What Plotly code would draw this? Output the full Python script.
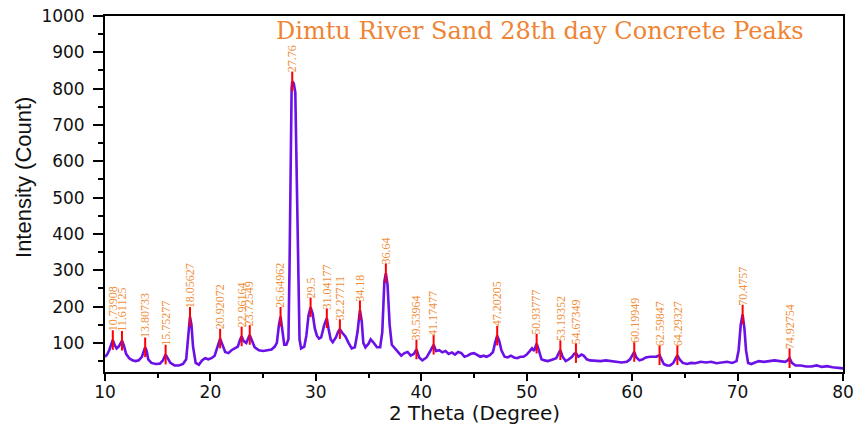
import plotly.graph_objects as go

# ---- curve data ----
two_theta = [10.0, 10.2, 10.4, 10.6, 10.74, 10.9, 11.1, 11.3, 11.5, 11.62, 11.8, 12.0, 12.3, 12.6, 12.9,
             13.2, 13.5, 13.7, 13.81, 13.95, 14.1, 14.4, 14.8, 15.2, 15.5, 15.75, 15.95, 16.2, 16.6, 17.0,
             17.4, 17.7, 17.9, 18.06, 18.2, 18.35, 18.6, 18.9, 19.2, 19.5, 19.8, 20.1, 20.4, 20.7, 20.92,
             21.1, 21.4, 21.7, 22.0, 22.3, 22.6, 22.8, 22.96, 23.15, 23.4, 23.72, 23.9, 24.2, 24.6, 25.0,
             25.4, 25.8, 26.1, 26.3, 26.5, 26.65, 26.8, 27.0, 27.2, 27.4, 27.5, 27.6, 27.7, 27.76, 27.9,
             28.05, 28.15, 28.25, 28.35, 28.45, 28.6, 28.9, 29.1, 29.3, 29.5, 29.7, 29.9, 30.1, 30.3, 30.5,
             30.8, 31.04, 31.2, 31.4, 31.6, 31.9, 32.1, 32.27, 32.5, 32.8, 33.1, 33.4, 33.7, 33.95, 34.18,
             34.35, 34.5, 34.7, 35.0, 35.2, 35.5, 35.8, 36.1, 36.3, 36.5, 36.64, 36.8, 37.0, 37.2, 37.5,
             37.8, 38.1, 38.4, 38.7, 39.0, 39.3, 39.54, 39.8, 40.1, 40.5, 40.9, 41.17, 41.4, 41.7, 42.0,
             42.3, 42.6, 42.9, 43.2, 43.5, 43.8, 44.1, 44.4, 44.7, 45.0, 45.3, 45.6, 45.9, 46.2, 46.5,
             46.8, 47.0, 47.2, 47.4, 47.6, 47.9, 48.2, 48.5, 48.8, 49.1, 49.4, 49.7, 50.0, 50.3, 50.5,
             50.7, 50.94, 51.15, 51.4, 51.7, 52.0, 52.4, 52.8, 53.0, 53.19, 53.4, 53.7, 54.0, 54.3, 54.5,
             54.67, 54.9, 55.2, 55.4, 55.7, 56.0, 56.5, 57.0, 57.5, 58.0, 58.5, 59.0, 59.5, 59.8, 60.0,
             60.2, 60.4, 60.7, 61.0, 61.3, 61.7, 62.0, 62.3, 62.6, 62.8, 63.0, 63.3, 63.6, 63.9, 64.1,
             64.29, 64.5, 64.8, 65.2, 65.6, 66.0, 66.5, 67.0, 67.5, 68.0, 68.5, 69.0, 69.5, 69.9, 70.1,
             70.3, 70.48, 70.65, 70.8, 71.0, 71.3, 71.7, 72.0, 72.5, 73.0, 73.5, 74.0, 74.5, 74.75, 74.93,
             75.15, 75.5, 76.0, 76.5, 77.0, 77.5, 78.0, 78.5, 79.0, 79.5, 80.0]
intensity = [62, 68, 80, 100, 108, 95, 85, 90, 102, 106, 92, 70, 58, 52, 50,
             52, 62, 80, 88, 78, 55, 45, 42, 43, 52, 68, 58, 45, 38, 38,
             42, 55, 120, 172, 150, 90, 45, 40, 52, 58, 55, 58, 65, 90, 112,
             98, 75, 72, 80, 85, 90, 108, 118, 105, 100, 122, 110, 88, 80, 78,
             80, 82, 90, 100, 150, 172, 140, 95, 95, 110, 300, 600, 800, 820, 815,
             790, 620, 560, 300, 110, 85, 90, 120, 175, 198, 180, 140, 120, 112, 115,
             150, 168, 140, 110, 102, 115, 130, 138, 128, 118, 100, 85, 88, 130, 190,
             160, 100, 88, 98, 110, 100, 88, 88, 130, 270, 292, 260, 150, 95, 85,
             75, 65, 72, 75, 65, 70, 82, 60, 52, 60, 80, 95, 78, 80, 74,
             78, 70, 74, 68, 75, 72, 62, 65, 70, 72, 66, 62, 65, 62, 66,
             75, 100, 120, 105, 80, 62, 60, 65, 60, 58, 62, 62, 68, 78, 85,
             78, 98, 80, 55, 52, 50, 54, 58, 70, 80, 62, 50, 55, 62, 70,
             72, 62, 68, 65, 55, 52, 50, 50, 52, 50, 48, 46, 48, 55, 65,
             75, 60, 52, 55, 60, 62, 62, 62, 66, 55, 42, 38, 38, 45, 58,
             66, 55, 45, 42, 45, 44, 48, 46, 48, 44, 46, 48, 45, 50, 80,
             150, 178, 140, 80, 45, 42, 46, 50, 48, 50, 52, 50, 48, 52, 58,
             45, 38, 38, 35, 35, 38, 34, 36, 33, 32, 30]

# ---- labelled peaks ----
peak_labels = ["10.73908", "11.61125", "13.80733", "15.75277", "18.05627", "20.92072", "22.96164",
               "23.72549", "26.64962", "27.76", "29.5", "31.04177", "32.27711", "34.18", "36.64",
               "39.53964", "41.17477", "47.20205", "50.93777", "53.19352", "54.67349", "60.19949",
               "62.59847", "64.29327", "70.4757", "74.92754"]
peak_x = [10.74, 11.61, 13.81, 15.75, 18.06, 20.92, 22.96, 23.73, 26.65, 27.76, 29.5, 31.04, 32.28,
          34.18, 36.64, 39.54, 41.17, 47.2, 50.94, 53.19, 54.67, 60.2, 62.6, 64.29, 70.48, 74.93]
peak_y = [108, 106, 88, 68, 172, 112, 118, 122, 172, 820, 198, 168, 138, 190, 292, 82, 95, 120, 98,
          80, 72, 75, 66, 66, 178, 58]

x_ticks = [10, 20, 30, 40, 50, 60, 70, 80]
y_ticks = [100, 200, 300, 400, 500, 600, 700, 800, 900, 1000]

CURVE = "#6b10e6"
LABEL = "#f0903c"

fig = go.Figure()
fig.add_trace(go.Scatter(x=two_theta, y=intensity, mode="lines",
                         line=dict(color=CURVE, width=2.6), hoverinfo="skip", showlegend=False))
fig.add_trace(go.Scatter(x=peak_x, y=peak_y, mode="markers",
                         marker=dict(symbol="line-ns", size=14, line=dict(color="#ff0000", width=2)),
                         showlegend=False, hoverinfo="skip"))

for lbl, px, py in zip(peak_labels, peak_x, peak_y):
    fig.add_annotation(x=px, y=py, text=lbl, textangle=-90, showarrow=False,
                       xanchor="center", yanchor="bottom", yshift=7,
                       font=dict(family="Liberation Serif", size=12, color=LABEL))

fig.add_annotation(xref="paper", yref="paper", x=0.589, y=0.958, xanchor="center", yanchor="middle",
                   text="Dimtu River Sand 28th day Concrete Peaks", showarrow=False,
                   font=dict(family="DejaVu Serif", size=24, color="#ee8434"))

fig.add_annotation(xref="paper", yref="paper", x=0.5, y=0.0, yshift=-41, xanchor="center", yanchor="middle",
                   text="2 Theta (Degree)", showarrow=False,
                   font=dict(family="DejaVu Sans", size=20, color="#111111"))
fig.add_annotation(xref="paper", yref="paper", x=0, xshift=-81, y=0.545, xanchor="center", yanchor="middle",
                   text="Intensity (Count)", showarrow=False, textangle=-90,
                   font=dict(family="Liberation Sans", size=22, color="#111111"))

axis_common = dict(showline=True, linecolor="black", linewidth=1.8, mirror=True, showgrid=False,
                   zeroline=False, ticks="outside", tickcolor="black", tickwidth=1.5, automargin=False,
                   tickfont=dict(family="DejaVu Sans", size=17, color="#111111"))

fig.update_xaxes(range=[10, 80], tickvals=x_ticks, ticklen=7, ticklabelstandoff=-3,
                 minor=dict(ticks="outside", dtick=5, tick0=0, ticklen=4, tickcolor="black", tickwidth=1.5),
                 **axis_common)
fig.update_yaxes(range=[20, 1000], tickvals=y_ticks, ticklen=10, ticklabelstandoff=5,
                 minor=dict(ticks="outside", dtick=50, tick0=0, ticklen=5, tickcolor="black", tickwidth=1.5),
                 **axis_common)

fig.update_layout(width=857, height=424, margin=dict(l=105, r=14, t=16, b=52),
                  plot_bgcolor="white", paper_bgcolor="white")

fig.write_html("out.html", config={"displayModeBar": False},
               post_script="document.body.style.margin='0';document.body.style.overflow='hidden';")
